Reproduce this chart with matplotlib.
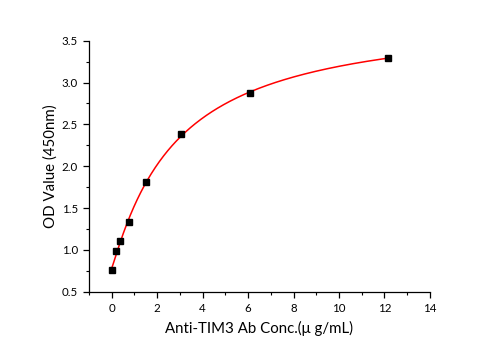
import numpy as np
import matplotlib
matplotlib.use("Agg")
import matplotlib.pyplot as plt
from matplotlib.ticker import MultipleLocator

conc = [0.0, 0.19, 0.38, 0.76, 1.52, 3.04, 6.07, 12.14]
od = [0.756, 0.986, 1.106, 1.329, 1.807, 2.38, 2.878, 3.29]

x_label = "Anti-TIM3 Ab Conc.(\u03bc g/mL)"
y_label = "OD Value (450nm)"

# 4PL fit of data (grid search over c, b; linear solve for a, d)
X = np.array(conc); Y = np.array(od)
best = None
for c in np.linspace(0.5, 20, 400):
    for b in np.linspace(0.5, 2.0, 151):
        g = 1.0 / (1.0 + (X / c) ** b)
        A = np.vstack([g, 1 - g]).T
        coef, *_ = np.linalg.lstsq(A, Y, rcond=None)
        r = np.sum((A @ coef - Y) ** 2)
        if best is None or r < best[0]:
            best = (r, c, b, coef)
_, c, b, (a, d) = best
xf = np.linspace(0, max(conc), 400)
gf = 1.0 / (1.0 + (xf / c) ** b)
yf = a * gf + d * (1 - gf)

plt.rcParams['font.family'] = ['Lato', 'DejaVu Sans']
fig = plt.figure(figsize=(5.01, 3.5), dpi=100)
ax = fig.add_axes([0.1776, 0.1666, 0.858 - 0.1776, 0.8837 - 0.1666])
ax.plot(xf, yf, color='red', lw=1.1, zorder=2)
ax.plot(conc, od, ls='none', marker='s', ms=4.3, color='black', zorder=3)
ax.set_xlim(-1, 14)
ax.set_ylim(0.5, 3.5)
ax.xaxis.set_major_locator(MultipleLocator(2))
ax.xaxis.set_minor_locator(MultipleLocator(1))
ax.yaxis.set_major_locator(MultipleLocator(0.5))
ax.yaxis.set_minor_locator(MultipleLocator(0.25))
ax.yaxis.set_major_formatter(matplotlib.ticker.FormatStrFormatter('%.1f'))
for s in ['top', 'right']:
    ax.spines[s].set_visible(False)
for s in ['left', 'bottom']:
    ax.spines[s].set_linewidth(0.9)
ax.tick_params(which='major', direction='out', length=4, width=0.9, labelsize=8.3, pad=4)
ax.tick_params(which='minor', direction='out', length=2.2, width=0.8)
ax.set_xlabel(x_label, fontsize=10.8, labelpad=5)
ax.set_ylabel(y_label, fontsize=10.8, labelpad=3)
fig.savefig("out.png", dpi=100)
